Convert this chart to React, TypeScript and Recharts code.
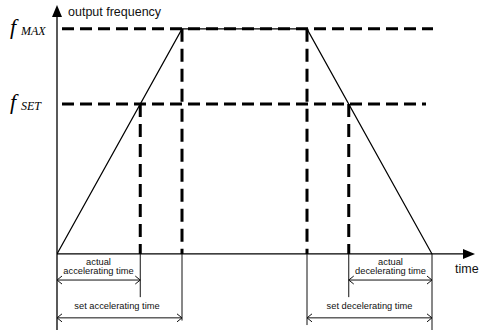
import { LineChart, Line, XAxis, YAxis, ReferenceLine, ReferenceDot } from 'recharts';

// speed profile: time vs output frequency
const times = [0, 5, 10, 15];
const freqs = [0, 50, 50, 0];

const fMax = 50;
const fSet = 33.3;
const tActAccEnd = 3.33;
const tSetAccEnd = 5;
const tDecStart = 10;
const tActDecStart = 11.67;
const tEnd = 15;

const xDomain = [0, 16.72];
const yDomain = [-16.9, 55.3];

const dimActualY = -5.8;
const dimSetY = -14.2;

const data = times.map((t, i) => ({ t, f: freqs[i] }));

const ink = '#111';
const dash = { stroke: '#000', strokeWidth: 3 };

const AxisArrow = (p: any) => {
  const { x1, y1, x2, y2 } = p;
  const dx = x2 - x1;
  const dy = y2 - y1;
  const len = Math.hypot(dx, dy) || 1;
  const ux = dx / len;
  const uy = dy / len;
  const bx = x2 - ux * 12;
  const by = y2 - uy * 12;
  const pts = `${x2},${y2} ${bx - uy * 5},${by + ux * 5} ${bx + uy * 5},${by - ux * 5}`;
  return (
    <g>
      <line x1={x1} y1={y1} x2={bx} y2={by} stroke="#000" strokeWidth={1.3} />
      <polygon points={pts} fill="#000" />
    </g>
  );
};

const DimArrow = (p: any) => {
  const { x1, y1, x2, y2 } = p;
  return (
    <g stroke={ink} strokeWidth={1} fill="none">
      <line x1={x1} y1={y1} x2={x2} y2={y2} />
      <polyline points={`${x1 + 5},${y1 - 4} ${x1},${y1} ${x1 + 5},${y1 + 4}`} />
      <polyline points={`${x2 - 5},${y2 - 4} ${x2},${y2} ${x2 - 5},${y2 + 4}`} />
    </g>
  );
};

const textAt = (text: string, size: number, anchor: 'start' | 'middle' = 'middle') => (props: any) => {
  const { x, y } = props.viewBox;
  return (
    <text x={x} y={y} fontSize={size} textAnchor={anchor} fill={ink} fontFamily="'Liberation Sans', Arial, sans-serif">
      {text}
    </text>
  );
};

const fLabel = (sub: string, fBase: number, subBase: number) => (props: any) => {
  const { x, y } = props.viewBox;
  return (
    <g fontFamily="'Liberation Serif', 'Times New Roman', serif" fontStyle="italic" fill="#000">
      <text x={x - 47} y={y + fBase} fontSize={22}>f</text>
      <text x={x - 36} y={y + subBase} fontSize={12}>{sub}</text>
    </g>
  );
};

const notes = [
  { x: 0.44, y: 52.96, text: 'output frequency', size: 12.5, anchor: 'start' as const },
  { x: 15.92, y: -4.2, text: 'time', size: 12.5, anchor: 'start' as const },
  { x: 1.66, y: -2.44, text: 'actual', size: 9.3, anchor: 'middle' as const },
  { x: 1.66, y: -4.44, text: 'accelerating time', size: 9.3, anchor: 'middle' as const },
  { x: 2.4, y: -12.33, text: 'set accelerating time', size: 9.3, anchor: 'middle' as const },
  { x: 13.34, y: -2.44, text: 'actual', size: 9.3, anchor: 'middle' as const },
  { x: 13.34, y: -4.44, text: 'decelerating time', size: 9.3, anchor: 'middle' as const },
  { x: 12.5, y: -12.33, text: 'set decelerating time', size: 9.3, anchor: 'middle' as const },
];

export default function App() {
  return (
    <div style={{ position: 'absolute', left: 0, top: 0, background: '#fff' }}>
      <LineChart width={480} height={332} data={data} margin={{ top: 5, right: 5, left: 57, bottom: 2 }}>
        <XAxis dataKey="t" type="number" domain={xDomain} hide allowDataOverflow />
        <YAxis type="number" domain={yDomain} hide allowDataOverflow />

        {/* axes */}
        <ReferenceLine ifOverflow="visible" segment={[{ x: 0, y: yDomain[0] }, { x: 0, y: yDomain[1] }]} shape={AxisArrow} />
        <ReferenceLine ifOverflow="visible" segment={[{ x: 0, y: 0 }, { x: xDomain[1], y: 0 }]} shape={AxisArrow} />

        {/* level lines */}
        <ReferenceLine ifOverflow="visible" segment={[{ x: 0.2, y: fMax }, { x: 15.04, y: fMax }]} {...dash} strokeDasharray="12 6" />
        <ReferenceLine ifOverflow="visible" segment={[{ x: 0.2, y: fSet }, { x: 14.76, y: fSet }]} {...dash} strokeDasharray="12 6" />

        {/* vertical drops */}
        <ReferenceLine ifOverflow="visible" segment={[{ x: tActAccEnd, y: fSet }, { x: tActAccEnd, y: 0 }]} {...dash} strokeDasharray="13 7" />
        <ReferenceLine ifOverflow="visible" segment={[{ x: tSetAccEnd, y: fMax }, { x: tSetAccEnd, y: 0 }]} {...dash} strokeDasharray="13 7" />
        <ReferenceLine ifOverflow="visible" segment={[{ x: tDecStart, y: fMax }, { x: tDecStart, y: 0 }]} {...dash} strokeDasharray="13 7" />
        <ReferenceLine ifOverflow="visible" segment={[{ x: tActDecStart, y: fSet }, { x: tActDecStart, y: 0 }]} {...dash} strokeDasharray="13 7" />

        {/* extension lines */}
        <ReferenceLine ifOverflow="visible" segment={[{ x: tActAccEnd, y: 0 }, { x: tActAccEnd, y: -9.6 }]} stroke={ink} strokeWidth={1} />
        <ReferenceLine ifOverflow="visible" segment={[{ x: tSetAccEnd, y: 0 }, { x: tSetAccEnd, y: -14.8 }]} stroke={ink} strokeWidth={1} />
        <ReferenceLine ifOverflow="visible" segment={[{ x: tDecStart, y: 0 }, { x: tDecStart, y: -15.8 }]} stroke={ink} strokeWidth={1} />
        <ReferenceLine ifOverflow="visible" segment={[{ x: tActDecStart, y: 0 }, { x: tActDecStart, y: -9.6 }]} stroke={ink} strokeWidth={1} />
        <ReferenceLine ifOverflow="visible" segment={[{ x: tEnd, y: 0 }, { x: tEnd, y: yDomain[0] }]} stroke={ink} strokeWidth={1} />

        {/* dimension arrows */}
        <ReferenceLine ifOverflow="visible" segment={[{ x: 0, y: dimActualY }, { x: tActAccEnd, y: dimActualY }]} shape={DimArrow} />
        <ReferenceLine ifOverflow="visible" segment={[{ x: 0, y: dimSetY }, { x: tSetAccEnd, y: dimSetY }]} shape={DimArrow} />
        <ReferenceLine ifOverflow="visible" segment={[{ x: tActDecStart, y: dimActualY }, { x: tEnd, y: dimActualY }]} shape={DimArrow} />
        <ReferenceLine ifOverflow="visible" segment={[{ x: tDecStart, y: dimSetY }, { x: tEnd, y: dimSetY }]} shape={DimArrow} />

        <Line dataKey="f" stroke="#000" strokeWidth={1.2} dot={false} isAnimationActive={false} />

        {notes.map((n, i) => (
          <ReferenceDot key={i} x={n.x} y={n.y} r={0} fill="none" stroke="none" ifOverflow="visible" label={{ content: textAt(n.text, n.size, n.anchor) }} />
        ))}
        <ReferenceDot x={0} y={fMax} r={0} fill="none" stroke="none" ifOverflow="visible" label={{ content: fLabel('MAX', 5, 6) }} />
        <ReferenceDot x={0} y={fSet} r={0} fill="none" stroke="none" ifOverflow="visible" label={{ content: fLabel('SET', 5, 6) }} />
      </LineChart>
    </div>
  );
}
